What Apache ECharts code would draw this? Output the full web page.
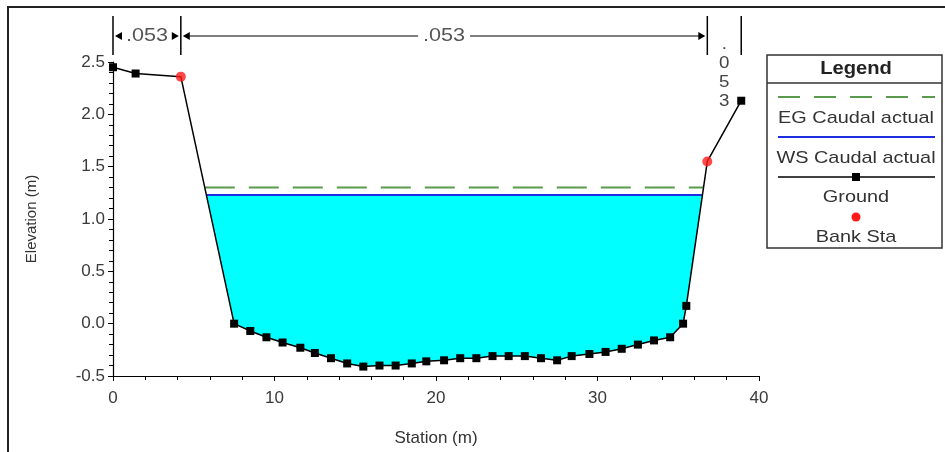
<!DOCTYPE html>
<html>
<head>
<meta charset="utf-8">
<script src="https://cdn.jsdelivr.net/npm/echarts@6/dist/echarts.min.js"></script>
<style>
  html, body { margin: 0; padding: 0; background: #fff; }
  #chart { width: 945px; height: 452px; }
</style>
</head>
<body>
<div id="chart"></div>
<script>
// Cross-section geometry: station (m) and ground elevation (m)
const station = [0, 1.4, 4.2, 7.5, 8.5, 9.5, 10.5, 11.6, 12.5, 13.5, 14.5, 15.5, 16.5, 17.5,
  18.5, 19.4, 20.5, 21.5, 22.5, 23.5, 24.5, 25.5, 26.5, 27.5, 28.4, 29.5, 30.5, 31.5, 32.5,
  33.5, 34.5, 35.3, 35.5, 36.8, 38.9];
const elevation = [2.45, 2.39, 2.36, 0.0, -0.07, -0.13, -0.18, -0.23, -0.28, -0.33, -0.38,
  -0.41, -0.40, -0.40, -0.38, -0.36, -0.35, -0.33, -0.33, -0.31, -0.31, -0.31, -0.33, -0.35,
  -0.31, -0.29, -0.27, -0.24, -0.20, -0.16, -0.13, 0.0, 0.17, 1.55, 2.13];

// Bank stations (m)
const bankStation = [4.2, 36.8];

// Water surface and energy grade elevations (m)
const wsElevation = 1.23;
const egElevation = 1.30;

// Manning's n breaks (stations) and values
const nBreaks = [0, 4.2, 36.8, 38.9];
const nValues = ['.053', '.053', '.053'];

// Axis ticks
const xTicks = [0, 10, 20, 30, 40];
const yTicks = [-0.5, 0.0, 0.5, 1.0, 1.5, 2.0, 2.5];

const FONT = '"Liberation Sans", Arial, sans-serif';

function groundAt(s) {
  for (let i = 0; i < station.length - 1; i++) {
    if (s >= station[i] && s <= station[i + 1]) {
      const t = (s - station[i]) / (station[i + 1] - station[i]);
      return elevation[i] + t * (elevation[i + 1] - elevation[i]);
    }
  }
  return elevation[elevation.length - 1];
}

// Left and right points where a level meets the ground inside the channel
function crossings(level) {
  let left = null, right = null;
  for (let i = 0; i < station.length - 1; i++) {
    const a = elevation[i], b = elevation[i + 1];
    if (left === null && a >= level && b < level) {
      left = station[i] + (a - level) / (a - b) * (station[i + 1] - station[i]);
    }
    if (a < level && b >= level) {
      right = station[i] + (level - a) / (b - a) * (station[i + 1] - station[i]);
    }
  }
  return [left, right];
}

const wsX = crossings(wsElevation);
const egX = crossings(egElevation);

// Wetted polygon: water surface plus ground below it
const waterPoly = [[wsX[0], wsElevation]];
station.forEach((s, i) => {
  if (s > wsX[0] && s < wsX[1]) waterPoly.push([s, elevation[i]]);
});
waterPoly.push([wsX[1], wsElevation]);

const groundData = station.map((s, i) => {
  const item = { value: [s, elevation[i]] };
  if (bankStation.indexOf(s) >= 0) item.symbol = 'none';
  return item;
});
const bankData = bankStation.map(s => [s, groundAt(s)]);

const chart = echarts.init(document.getElementById('chart'), null, { renderer: 'canvas' });

const option = {
  animation: false,
  backgroundColor: '#ffffff',
  grid: { left: 113, right: 186, top: 62, bottom: 73, containLabel: false },
  xAxis: {
    type: 'value',
    min: xTicks[0], max: xTicks[xTicks.length - 1], interval: 10,
    name: 'Station (m)', nameLocation: 'middle', nameGap: 54,
    nameTextStyle: { fontFamily: FONT, fontSize: 17, color: '#333' },
    axisLine: { onZero: false, lineStyle: { color: '#000', width: 1.2 } },
    axisTick: { length: 5, lineStyle: { color: '#000' } },
    minorTick: { show: true, splitNumber: 5, length: 4, lineStyle: { color: '#000' } },
    splitLine: { show: false },
    axisLabel: { fontFamily: FONT, fontSize: 17, color: '#3a3a3a', margin: 14 }
  },
  yAxis: {
    type: 'value',
    min: yTicks[0], max: yTicks[yTicks.length - 1], interval: 0.5,
    name: 'Elevation (m)', nameLocation: 'middle', nameGap: 74, nameRotate: 90,
    nameTextStyle: { fontFamily: FONT, fontSize: 15, color: '#333' },
    axisLine: { onZero: false, lineStyle: { color: '#000', width: 1.2 } },
    axisTick: { length: 5, lineStyle: { color: '#000' } },
    minorTick: { show: true, splitNumber: 5, length: 4, lineStyle: { color: '#000' } },
    splitLine: { show: false },
    axisLabel: { fontFamily: FONT, fontSize: 17, color: '#3a3a3a', margin: 8,
      formatter: v => v.toFixed(1) }
  },
  series: [
    {
      name: 'Water',
      type: 'custom',
      z: 1,
      data: [0],
      renderItem: (params, api) => ({
        type: 'polygon',
        shape: { points: waterPoly.map(p => api.coord(p)) },
        style: { fill: '#00FFFF', stroke: null }
      })
    },
    {
      name: 'EG Caudal actual',
      type: 'line', z: 3,
      data: [[egX[0], egElevation], [egX[1], egElevation]],
      symbol: 'none',
      lineStyle: { color: '#5a9a4c', width: 2, type: [30, 14] }
    },
    {
      name: 'WS Caudal actual',
      type: 'line', z: 3,
      data: [[wsX[0], wsElevation], [wsX[1], wsElevation]],
      symbol: 'none',
      lineStyle: { color: '#1c2ee0', width: 2 }
    },
    {
      name: 'Ground',
      type: 'line', z: 4,
      data: groundData,
      symbol: 'rect', symbolSize: 8,
      itemStyle: { color: '#000' },
      lineStyle: { color: '#000', width: 1.5 }
    },
    {
      name: 'Bank Sta',
      type: 'scatter', z: 5,
      data: bankData,
      symbol: 'circle', symbolSize: 10,
      itemStyle: { color: '#ff1a1a' }
    }
  ]
};

chart.setOption(option);

// Manning's n annotation above the section, placed with the x scale
const gfx = [];
const yTop = 16, yBot = 55, yArrow = 36;
const px = s => chart.convertToPixel({ gridIndex: 0 }, [s, 0])[0];

function label(x, y, text, font, fill, sx, bg) {
  const style = { text: text, fill: fill, font: font, align: 'center', verticalAlign: 'middle' };
  if (bg) style.backgroundColor = bg;
  return { type: 'text', z: 21, x: x, y: y, scaleX: sx, style: style };
}

nBreaks.forEach(s => {
  const x = px(s);
  gfx.push({ type: 'line', shape: { x1: x, y1: yTop, x2: x, y2: yBot },
    style: { stroke: '#000', lineWidth: 1.5 }, z: 10 });
});

function arrowHead(x, dir) {
  // dir -1 points left, +1 points right; tip at x
  return { type: 'polygon', z: 10,
    shape: { points: [[x, yArrow], [x - dir * 7, yArrow - 4], [x - dir * 7, yArrow + 4]] },
    style: { fill: '#000' } };
}

for (let i = 0; i < nValues.length; i++) {
  const x1 = px(nBreaks[i]) + 2, x2 = px(nBreaks[i + 1]) - 2;
  const w = x2 - x1;
  const cx = (x1 + x2) / 2;
  if (w > 60) {
    const half = 26;
    gfx.push(arrowHead(x1, -1), arrowHead(x2, 1));
    if (cx - half > x1 + 7) {
      gfx.push({ type: 'line', z: 10, shape: { x1: x1 + 2, y1: yArrow, x2: cx - half, y2: yArrow },
        style: { stroke: '#000', lineWidth: 1.2 } });
      gfx.push({ type: 'line', z: 10, shape: { x1: cx + half, y1: yArrow, x2: x2 - 2, y2: yArrow },
        style: { stroke: '#000', lineWidth: 1.2 } });
    }
    gfx.push(label(cx, yArrow, nValues[i], '18px ' + FONT, '#555', 1.2, '#fff'));
  } else {
    nValues[i].split('').forEach((ch, k) => {
      gfx.push(label(cx, 44 + k * 19, ch, '17px ' + FONT, '#444', 1.1));
    });
  }
}

// Outer frame
gfx.push({ type: 'polyline', z: 20,
  shape: { points: [[8, 452], [8, 7], [945, 7]] },
  style: { stroke: '#222', lineWidth: 2, fill: null } });

// Legend box
const LX = 767, LW = 175, LC = 856;
const LF = '17px ' + FONT, LS = 1.17;
gfx.push({ type: 'rect', z: 20, shape: { x: LX, y: 55, width: LW, height: 193 },
  style: { fill: '#fff', stroke: '#333', lineWidth: 1.5 } });
gfx.push({ type: 'line', z: 21, shape: { x1: LX, y1: 83, x2: LX + LW, y2: 83 },
  style: { stroke: '#333', lineWidth: 1.5 } });
gfx.push(label(LC, 69, 'Legend', 'bold 18px ' + FONT, '#222', 1.12));

gfx.push({ type: 'line', z: 21, shape: { x1: 778, y1: 97, x2: 935, y2: 97 },
  style: { stroke: '#5a9a4c', lineWidth: 2, lineDash: [22, 14] } });
gfx.push(label(LC, 118, 'EG Caudal actual', LF, '#333', LS));

gfx.push({ type: 'line', z: 21, shape: { x1: 778, y1: 137, x2: 935, y2: 137 },
  style: { stroke: '#1c2ee0', lineWidth: 2 } });
gfx.push(label(LC, 158, 'WS Caudal actual', LF, '#333', LS));

gfx.push({ type: 'line', z: 21, shape: { x1: 778, y1: 177, x2: 935, y2: 177 },
  style: { stroke: '#000', lineWidth: 1.5 } });
gfx.push({ type: 'rect', z: 22, shape: { x: LC - 4, y: 173, width: 8, height: 8 },
  style: { fill: '#000' } });
gfx.push(label(LC, 197, 'Ground', LF, '#333', LS));

gfx.push({ type: 'circle', z: 21, shape: { cx: LC, cy: 217, r: 4.5 },
  style: { fill: '#ff1a1a' } });
gfx.push(label(LC, 237, 'Bank Sta', LF, '#333', LS));

chart.setOption({ graphic: { elements: gfx } });
</script>
</body>
</html>
